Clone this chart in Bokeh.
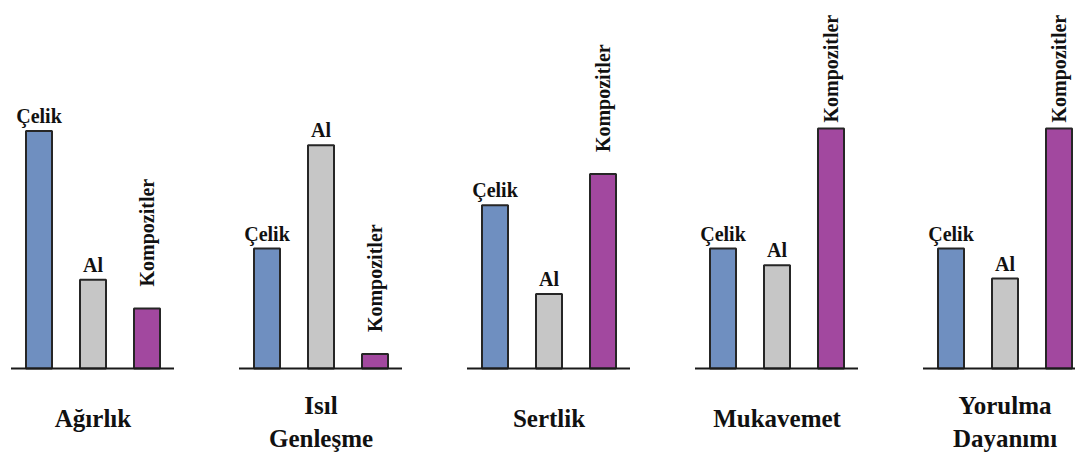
from bokeh.plotting import figure
from bokeh.models import ColumnDataSource, Range1d
from bokeh.core.properties import value
from bokeh.embed import file_html
from bokeh.resources import INLINE
import math

# Relative comparison of steel, aluminium and composites (0-10 scale)
properties = [["Ağırlık"], ["Isıl", "Genleşme"], ["Sertlik"], ["Mukavemet"], ["Yorulma", "Dayanımı"]]
materials = ["Çelik", "Al", "Kompozitler"]
celik = [9.9, 5.0, 6.8, 5.0, 5.0]
al = [3.7, 9.3, 3.1, 4.3, 3.75]
kompozitler = [2.5, 0.6, 8.1, 10.0, 10.0]

colors = ["#6F8FC0", "#C6C6C6", "#A2489F"]
series = [celik, al, kompozitler]

W, H = 1075, 455
PX = 24.0            # pixels per value unit
BASE = 368           # baseline, pixels from top
GROUP_X0, GROUP_STEP, BAR_STEP = 92.5, 228, 54

def px(n):
    return n / PX

p = figure(width=W, height=H, output_backend="svg", toolbar_location=None,
           x_range=Range1d(0, W), y_range=Range1d(-(H - BASE) / PX, BASE / PX),
           min_border=0, min_border_left=0, min_border_right=0,
           min_border_top=0, min_border_bottom=0)
p.axis.visible = False
p.grid.visible = False
p.outline_line_color = None
p.background_fill_color = "white"

font = value("Liberation Serif")

for i, (vals, col) in enumerate(zip(series, colors)):
    xs = [GROUP_X0 + GROUP_STEP * g + BAR_STEP * (i - 1) for g in range(len(vals))]
    src = ColumnDataSource(dict(x=xs, top=vals))
    p.vbar(x="x", top="top", bottom=0, width=26, source=src,
           fill_color=col, line_color="#262626", line_width=2)

    if i < 2:
        ly = [v + px(15) for v in vals]
        p.text(x=xs, y=ly, text=[materials[i]] * len(vals), text_font=font,
               text_font_style="bold", text_font_size="20px", text_color="#111111",
               text_align="center", text_baseline="alphabetic")
    else:
        ly = [min(v + px(22), px(246)) for v in vals]
        p.text(x=xs, y=ly, text=[materials[i]] * len(vals), text_font=font,
               text_font_style="bold", text_font_size="20px", text_color="#111111",
               text_align="left", text_baseline="middle", angle=math.pi / 2)

# baselines under each group
centers = [GROUP_X0 + GROUP_STEP * g for g in range(len(properties))]
p.segment(x0=[c - BAR_STEP - 28 for c in centers], y0=[0] * len(centers),
          x1=[c + BAR_STEP + 27 for c in centers], y1=[0] * len(centers),
          line_color="#1a1a1a", line_width=2)

# property names below the groups
tx, ty, tt = [], [], []
for c, lines in zip(centers, properties):
    if len(lines) == 1:
        ys = [-px(50)]
    else:
        ys = [-px(37), -px(70)]
    for line, y in zip(lines, ys):
        tx.append(c)
        ty.append(y)
        tt.append(line)
p.text(x=tx, y=ty, text=tt, text_font=font, text_font_style="bold",
       text_font_size="25px", text_color="#111111",
       text_align="center", text_baseline="alphabetic")

open("out.html", "w").write(file_html(p, INLINE))
